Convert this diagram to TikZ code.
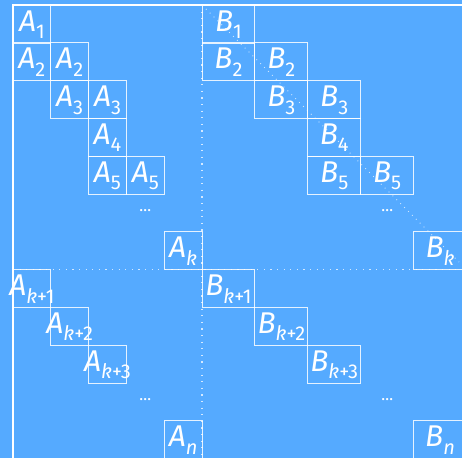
\documentclass[tikz,border=0pt]{standalone}
\usepackage{fontspec}
\setmainfont{Fira Sans}
\definecolor{bg}{RGB}{85,170,255}
\newcommand{\blk}[2]{\makebox[0pt][c]{{\fontsize{30}{30}\selectfont\itshape #1}\raisebox{-7.5pt}{\fontsize{20}{20}\selectfont #2}}}
\newcommand{\kk}[1]{\textit{k}#1}
\begin{document}
\begin{tikzpicture}[x=1pt,y=-1pt,
  cellA/.style={draw=white,draw opacity=0.85,line width=1pt,inner sep=0pt,outer sep=0pt,
    minimum width=37.8pt,minimum height=37.8pt,text height=26pt,text depth=12pt,text=white,anchor=north west},
  cellB/.style={cellA,minimum width=52.9pt},
  dots/.style={text=white,inner sep=0pt,font=\fontsize{16}{16}\selectfont},
  guide/.style={draw=white,draw opacity=0.75,line width=1.2pt,dash pattern=on 1.2pt off 5.4pt},
  diag/.style={draw=white,draw opacity=0.7,line width=0.9pt,dash pattern=on 0.9pt off 4.6pt},
  frame/.style={draw=white,line width=2pt}]
\fill[bg] (0,0) rectangle (462,458);
\useasboundingbox (0,0) rectangle (462,458);
% guide coordinates
\coordinate (corner) at (13,5);
\coordinate (tr) at (462,5);
\coordinate (bl) at (13,458);
\coordinate (vt) at (202,5);
\coordinate (vb) at (202,458);
\coordinate (hl) at (13,269.6);
\coordinate (hr) at (462,269.6);
\coordinate (de) at (459,262);
\draw[guide] (vt) -- (vb);
\draw[guide] (hl) -- (hr);
% A cells
\node[cellA] (a1)  at (13,5)        {\blk{A}{1}};
\node[cellA] (a2a) at (13,42.8)     {\blk{A}{2}};
\node[cellA] (a2b) at (50.8,42.8)   {\blk{A}{2}};
\node[cellA] (a3a) at (50.8,80.6)   {\blk{A}{3}};
\node[cellA] (a3b) at (88.6,80.6)   {\blk{A}{3}};
\node[cellA] (a4)  at (88.6,118.4)  {\blk{A}{4}};
\node[cellA] (a5a) at (88.6,156.2)  {\blk{A}{5}};
\node[cellA] (a5b) at (126.4,156.2) {\blk{A}{5}};
\node[cellA] (ak)  at (164.2,231.8) {\blk{A}{\kk{}}};
\node[cellA] (ak1) at (13,269.6)    {\blk{A}{\kk{+1}}};
\node[cellA] (ak2) at (50.8,307.4)  {\blk{A}{\kk{+2}}};
\node[cellA] (ak3) at (88.6,345.2)  {\blk{A}{\kk{+3}}};
\node[cellA] (an)  at (164.2,420.8) {\blk{A}{\textit{n}}};
% B cells
\node[cellB] (b1)  at (202,5)       {\blk{B}{1}};
\node[cellB] (b2a) at (202,42.8)    {\blk{B}{2}};
\node[cellB] (b2b) at (254.9,42.8)  {\blk{B}{2}};
\node[cellB] (b3a) at (254.9,80.6)  {\blk{B}{3}};
\node[cellB] (b3b) at (307.8,80.6)  {\blk{B}{3}};
\node[cellB] (b4)  at (307.8,118.4) {\blk{B}{4}};
\node[cellB] (b5a) at (307.8,156.2) {\blk{B}{5}};
\node[cellB] (b5b) at (360.7,156.2) {\blk{B}{5}};
\node[cellB] (bk)  at (413.6,231.8) {\blk{B}{\kk{}}};
\node[cellB] (bk1) at (202,269.6)   {\blk{B}{\kk{+1}}};
\node[cellB] (bk2) at (254.9,307.4) {\blk{B}{\kk{+2}}};
\node[cellB] (bk3) at (307.8,345.2) {\blk{B}{\kk{+3}}};
\node[cellB] (bn)  at (413.6,420.8) {\blk{B}{\textit{n}}};
% ellipses
\node[dots] (d1) at (145.3,211) {\ldots};
\node[dots] (d2) at (387.2,211) {\ldots};
\node[dots] (d3) at (145.3,400) {\ldots};
\node[dots] (d4) at (387.2,400) {\ldots};
% frame
\draw[frame] (tr) -- (corner) -- (bl);
% diagonal
\draw[diag] (vt) -- (de);
\end{tikzpicture}
\end{document}
